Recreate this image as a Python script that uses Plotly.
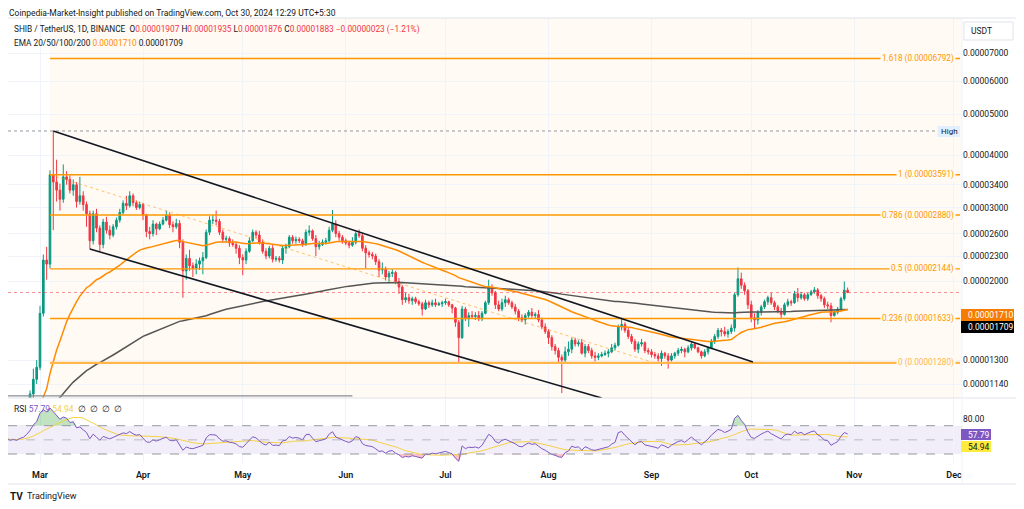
import numpy as np
import pandas as pd
import plotly.graph_objects as go

# page body has an 8px margin, so the figure is drawn 8px right/down of the window corner
OX, OY = 8, 8
W, H = 1016, 501

# ---------------- data (prices in units of 1e-5 USDT) ----------------
first_open_e5 = 1.00
close_feb = [0.99, 0.97, 0.98, 0.97, 0.99, 1.00, 1.03, 1.08, 1.17, 1.25]
high_feb = [1.01, 1.00, 0.99, 0.99, 1.00, 1.01, 1.04, 1.10, 1.24, 1.30]
low_feb = [0.97, 0.96, 0.96, 0.96, 0.96, 0.98, 0.99, 1.02, 1.05, 1.14]

close_mar = [1.68, 2.25, 2.20, 3.59, 3.45, 3.30, 3.14, 3.55, 3.50, 3.30, 3.40, 3.10, 3.20, 3.05, 2.90, 2.50,
             2.90, 2.68, 2.45, 2.77, 2.65, 2.58, 2.70, 2.80, 2.92, 3.07, 3.03, 3.20, 3.08, 3.00, 3.05]
high_mar = [1.75, 2.32, 2.42, 3.68, 4.565, 3.90, 3.42, 3.80, 3.66, 3.58, 3.50, 3.45, 3.55, 3.28, 3.10, 2.95,
            2.95, 2.98, 2.72, 2.82, 2.85, 2.72, 2.74, 2.84, 2.98, 3.12, 3.20, 3.28, 3.24, 3.12, 3.10]
low_mar = [1.23, 1.65, 2.02, 2.15, 2.65, 3.10, 2.95, 3.08, 3.40, 3.24, 3.20, 3.00, 3.05, 2.95, 2.70, 2.39,
           2.45, 2.62, 2.36, 2.40, 2.60, 2.52, 2.55, 2.66, 2.76, 2.88, 2.96, 3.00, 3.02, 2.96, 2.97]

close_apr = [2.88, 2.63, 2.60, 2.74, 2.67, 2.74, 2.80, 2.88, 2.73, 2.70, 2.75, 2.48, 2.12, 2.27, 2.18,
             2.15, 2.20, 2.24, 2.28, 2.62, 2.80, 2.80, 2.78, 2.62, 2.52, 2.53, 2.47, 2.45, 2.40, 2.28]
high_apr = [3.08, 2.90, 2.70, 2.80, 2.76, 2.78, 2.85, 2.95, 2.92, 2.78, 2.82, 2.80, 2.52, 2.32, 2.38,
            2.22, 2.26, 2.28, 2.35, 2.66, 2.86, 2.88, 2.95, 2.82, 2.66, 2.57, 2.56, 2.52, 2.48, 2.44]
low_apr = [2.80, 2.55, 2.52, 2.56, 2.58, 2.65, 2.72, 2.78, 2.68, 2.62, 2.67, 2.40, 1.83, 2.02, 2.12,
           2.05, 2.08, 2.13, 2.08, 2.26, 2.58, 2.74, 2.72, 2.58, 2.48, 2.48, 2.42, 2.42, 2.33, 2.20]

close_may = [2.25, 2.36, 2.50, 2.62, 2.58, 2.48, 2.36, 2.30, 2.40, 2.26, 2.27, 2.25, 2.40, 2.42, 2.55, 2.50,
             2.52, 2.50, 2.45, 2.62, 2.64, 2.53, 2.42, 2.45, 2.48, 2.50, 2.65, 2.74, 2.60, 2.55, 2.50]
high_may = [2.32, 2.40, 2.55, 2.66, 2.65, 2.64, 2.52, 2.40, 2.43, 2.44, 2.30, 2.30, 2.44, 2.46, 2.58, 2.58,
            2.56, 2.55, 2.53, 2.66, 2.72, 2.66, 2.58, 2.50, 2.52, 2.54, 2.70, 2.96, 2.80, 2.64, 2.58]
low_may = [2.07, 2.20, 2.34, 2.48, 2.53, 2.45, 2.33, 2.26, 2.27, 2.22, 2.23, 2.22, 2.20, 2.33, 2.40, 2.46,
           2.46, 2.47, 2.42, 2.43, 2.57, 2.50, 2.30, 2.38, 2.43, 2.45, 2.48, 2.62, 2.55, 2.50, 2.46]

close_jun = [2.47, 2.44, 2.48, 2.60, 2.57, 2.40, 2.34, 2.32, 2.30, 2.23, 2.13, 2.14, 2.05, 2.09, 2.10,
             2.00, 1.94, 1.81, 1.83, 1.80, 1.82, 1.79, 1.77, 1.72, 1.78, 1.76, 1.78, 1.76, 1.77, 1.78]
high_jun = [2.53, 2.50, 2.55, 2.63, 2.66, 2.60, 2.44, 2.37, 2.35, 2.33, 2.26, 2.22, 2.17, 2.12, 2.14,
            2.12, 2.04, 1.96, 1.88, 1.87, 1.84, 1.84, 1.81, 1.79, 1.81, 1.80, 1.81, 1.82, 1.79, 1.80]
low_jun = [2.44, 2.40, 2.42, 2.45, 2.54, 2.36, 2.15, 2.28, 2.26, 2.19, 2.05, 2.08, 2.01, 1.98, 2.05,
           1.97, 1.87, 1.76, 1.78, 1.77, 1.76, 1.77, 1.75, 1.66, 1.71, 1.73, 1.74, 1.74, 1.75, 1.74]

close_jul = [1.79, 1.76, 1.73, 1.60, 1.47, 1.72, 1.63, 1.66, 1.65, 1.66, 1.63, 1.68, 1.78, 1.93, 1.88, 1.76,
             1.72, 1.78, 1.81, 1.78, 1.74, 1.70, 1.64, 1.62, 1.66, 1.69, 1.66, 1.67, 1.62, 1.56, 1.52]
high_jul = [1.82, 1.80, 1.77, 1.74, 1.62, 1.75, 1.74, 1.69, 1.70, 1.69, 1.70, 1.70, 1.80, 2.02, 1.97, 1.90,
            1.80, 1.82, 1.85, 1.83, 1.80, 1.77, 1.72, 1.67, 1.68, 1.71, 1.73, 1.69, 1.71, 1.64, 1.59]
low_jul = [1.76, 1.74, 1.68, 1.56, 1.28, 1.46, 1.61, 1.56, 1.63, 1.62, 1.61, 1.61, 1.67, 1.76, 1.85, 1.72,
           1.70, 1.70, 1.74, 1.76, 1.72, 1.67, 1.61, 1.60, 1.58, 1.64, 1.64, 1.63, 1.60, 1.54, 1.50]

close_aug = [1.47, 1.40, 1.37, 1.32, 1.30, 1.36, 1.38, 1.45, 1.42, 1.43, 1.35, 1.40, 1.37, 1.33, 1.32, 1.33,
             1.34, 1.35, 1.36, 1.39, 1.41, 1.56, 1.58, 1.53, 1.48, 1.44, 1.38, 1.42, 1.43, 1.37, 1.36]
high_aug = [1.54, 1.49, 1.42, 1.39, 1.34, 1.40, 1.44, 1.47, 1.47, 1.45, 1.46, 1.42, 1.42, 1.39, 1.36, 1.35,
            1.36, 1.37, 1.38, 1.42, 1.43, 1.58, 1.64, 1.60, 1.55, 1.50, 1.46, 1.44, 1.46, 1.44, 1.39]
low_aug = [1.42, 1.37, 1.34, 1.28, 1.085, 1.28, 1.33, 1.35, 1.40, 1.40, 1.34, 1.32, 1.35, 1.31, 1.29, 1.30,
           1.32, 1.33, 1.32, 1.35, 1.37, 1.40, 1.53, 1.51, 1.46, 1.42, 1.36, 1.35, 1.40, 1.35, 1.34]

close_sep = [1.34, 1.33, 1.31, 1.35, 1.33, 1.30, 1.33, 1.35, 1.37, 1.38, 1.36, 1.39, 1.42, 1.39, 1.36,
             1.33, 1.36, 1.39, 1.44, 1.48, 1.53, 1.52, 1.50, 1.52, 1.55, 1.86, 2.03, 1.96, 1.90, 1.76]
high_sep = [1.38, 1.36, 1.35, 1.37, 1.36, 1.35, 1.35, 1.36, 1.39, 1.40, 1.39, 1.41, 1.44, 1.43, 1.40,
            1.37, 1.38, 1.40, 1.46, 1.50, 1.55, 1.55, 1.56, 1.54, 1.58, 1.88, 2.16, 2.10, 1.99, 1.92]
low_sep = [1.32, 1.31, 1.29, 1.26, 1.31, 1.24, 1.29, 1.31, 1.33, 1.35, 1.32, 1.35, 1.37, 1.38, 1.35,
           1.31, 1.32, 1.34, 1.38, 1.42, 1.46, 1.48, 1.48, 1.47, 1.50, 1.52, 1.84, 1.92, 1.86, 1.72]

close_oct = [1.64, 1.62, 1.69, 1.74, 1.79, 1.83, 1.78, 1.74, 1.70, 1.67, 1.76, 1.79, 1.78, 1.87, 1.83,
             1.86, 1.82, 1.86, 1.89, 1.91, 1.85, 1.82, 1.76, 1.75, 1.66, 1.69, 1.72, 1.82, 1.907, 1.883]
high_oct = [1.80, 1.68, 1.71, 1.76, 1.81, 1.85, 1.88, 1.80, 1.76, 1.73, 1.78, 1.82, 1.81, 1.90, 1.93,
            1.89, 1.88, 1.88, 1.91, 1.94, 1.93, 1.87, 1.84, 1.79, 1.78, 1.71, 1.74, 1.84, 2.00, 1.935]
low_oct = [1.60, 1.55, 1.58, 1.66, 1.72, 1.76, 1.76, 1.71, 1.68, 1.63, 1.66, 1.74, 1.75, 1.77, 1.79,
           1.81, 1.80, 1.80, 1.85, 1.87, 1.82, 1.79, 1.73, 1.72, 1.60, 1.65, 1.67, 1.70, 1.80, 1.876]

# EMA seeds (value of each EMA just before the first visible day, 1e-5 units)
ema50_seed_e5 = 0.96
ema200_seed_e5 = 0.92
# RSI(14) Wilder seed averages (1e-5 units)
rsi_seed_gain_e5 = 0.016
rsi_seed_loss_e5 = 0.014

# Fibonacci retracement
fib_ratios = ["1.618", "1", "0.786", "0.5", "0.236", "0"]
fib_prices = [0.00006792, 0.00003591, 0.00002880, 0.00002144, 0.00001633, 0.00001280]
fib_anchor_start = ("2024-03-04", 0.00003591)
fib_anchor_end = ("2024-09-02", 0.00001280)

# Drawn channel lines
upper_line = [("2024-03-05", 0.00004565), ("2024-10-01 12:00", 0.00001286)]
lower_line = [("2024-03-16", 0.00002390), ("2024-08-17", 0.00001056)]
bottom_hline = [("2024-02-20", 0.00001068), ("2024-06-03", 0.00001068)]

high_price = 0.00004565
last_price = 0.00001883

price_ticks = [0.00007, 0.00006, 0.00005, 0.00004, 0.000034, 0.00003, 0.000026, 0.000023,
               0.00002, 0.000013, 0.0000114]
month_ticks = ["2024-03-01", "2024-04-01", "2024-05-01", "2024-06-01", "2024-07-01",
               "2024-08-01", "2024-09-01", "2024-10-01", "2024-11-01", "2024-12-01"]
month_labels = ["Mar", "Apr", "May", "Jun", "Jul", "Aug", "Sep", "Oct", "Nov", "Dec"]

# ---------------- assemble ----------------
S = 1e-5
dates = pd.date_range("2024-02-20", "2024-10-30", freq="D")
close = np.array(close_feb + close_mar + close_apr + close_may + close_jun + close_jul + close_aug + close_sep + close_oct) * S
high = np.array(high_feb + high_mar + high_apr + high_may + high_jun + high_jul + high_aug + high_sep + high_oct) * S
low = np.array(low_feb + low_mar + low_apr + low_may + low_jun + low_jul + low_aug + low_sep + low_oct) * S
opn = np.concatenate([[first_open_e5 * S], close[:-1]])
high = np.maximum(high, np.maximum(opn, close))
low = np.minimum(low, np.minimum(opn, close))


def ema(vals, period, seed):
    a = 2.0 / (period + 1)
    e = seed
    out = []
    for v in vals:
        e = e + a * (v - e)
        out.append(e)
    return np.array(out)


ema50 = ema(close, 50, ema50_seed_e5 * S)
ema200 = ema(close, 200, ema200_seed_e5 * S)

ag, al = rsi_seed_gain_e5 * S, rsi_seed_loss_e5 * S
prev = first_open_e5 * S
rsi = []
for c in close:
    ch = c - prev
    ag = (ag * 13 + max(ch, 0)) / 14
    al = (al * 13 + max(-ch, 0)) / 14
    rsi.append(100 - 100 / (1 + ag / al))
    prev = c
rsi = np.array(rsi)
rsi_ma = pd.Series(rsi).rolling(14, min_periods=1).mean().values

# ---------------- geometry helpers (window pixels) ----------------
mar1 = pd.Timestamp("2024-03-01")
PXD = 3.3236
X0 = 40.0


def d_at(px):
    return mar1 + pd.Timedelta(days=(px - X0) / PXD)


def fx(px):
    return (px - OX) / W


def fy(py):
    return 1 - (py - OY) / H


PL, PR = 8, 962
MT, MB = 18, 398
RT, RB = 398, 463
x_left, x_right = d_at(PL), d_at(PR)
ylog_top = np.log10(7e-5) + (53 - MT) / 420.0
ylog_bot = np.log10(7e-5) - (MB - 53) / 420.0
RSI_PER = 0.7075
rsi_top = 50 + (439.85 - RT) / RSI_PER
rsi_bot = 50 - (RB - 439.85) / RSI_PER

FONT = "Roboto"
DARK = "#131722"
ORANGE = "#ff9800"
CREAM = "#fffaf3"

fig = go.Figure()

# EMA lines
fig.add_trace(go.Scatter(x=dates, y=ema200, mode="lines", line=dict(color="#555555", width=1.5),
                         xaxis="x", yaxis="y", hoverinfo="skip"))
fig.add_trace(go.Scatter(x=dates, y=ema50, mode="lines", line=dict(color="#ff8c00", width=1.5),
                         xaxis="x", yaxis="y", hoverinfo="skip"))

# fib trend (dotted)
fig.add_trace(go.Scatter(x=[fib_anchor_start[0], fib_anchor_end[0]], y=[fib_anchor_start[1], fib_anchor_end[1]],
                         mode="lines", line=dict(color="rgba(255,152,0,0.55)", width=1, dash="dot"),
                         xaxis="x", yaxis="y", hoverinfo="skip"))

# fib level lines
for r, p in zip(fib_ratios, fib_prices):
    col = "#ffb74d" if r == "0" else ORANGE
    wd = 2.2 if r == "0" else 1.3
    fig.add_trace(go.Scatter(x=[fib_anchor_start[0], d_at(960)], y=[p, p], mode="lines",
                             line=dict(color=col, width=wd), xaxis="x", yaxis="y", hoverinfo="skip"))

# high dotted line
fig.add_trace(go.Scatter(x=[x_left, d_at(937)], y=[high_price, high_price], mode="lines",
                         line=dict(color="#9598a1", width=1, dash="dot"), xaxis="x", yaxis="y", hoverinfo="skip"))
# last price dotted line
fig.add_trace(go.Scatter(x=[x_left, x_right], y=[last_price, last_price], mode="lines",
                         line=dict(color="rgba(242,54,69,0.55)", width=1, dash="dot"), xaxis="x", yaxis="y",
                         hoverinfo="skip"))

# channel lines
for seg, col, wd in [(upper_line, "#131722", 1.6), (lower_line, "#131722", 1.6), (bottom_hline, "#8a8d96", 1.2)]:
    fig.add_trace(go.Scatter(x=[seg[0][0], seg[1][0]], y=[seg[0][1], seg[1][1]], mode="lines",
                             line=dict(color=col, width=wd), xaxis="x", yaxis="y", hoverinfo="skip"))

# candles
fig.add_trace(go.Candlestick(x=dates, open=opn, high=high, low=low, close=close,
                             increasing=dict(line=dict(color="#089981", width=1), fillcolor="#089981"),
                             decreasing=dict(line=dict(color="#f23645", width=1), fillcolor="#f23645"),
                             whiskerwidth=0, xaxis="x", yaxis="y", hoverinfo="skip"))

# RSI pane
r_over = np.maximum(rsi, 70)
fig.add_trace(go.Scatter(x=dates, y=np.full(len(dates), 70.0), mode="lines", line=dict(width=0),
                         xaxis="x2", yaxis="y2", hoverinfo="skip"))
fig.add_trace(go.Scatter(x=dates, y=r_over, mode="lines", line=dict(width=0), fill="tonexty",
                         fillcolor="rgba(76,175,80,0.35)", xaxis="x2", yaxis="y2", hoverinfo="skip"))
r_under = np.minimum(rsi, 30)
fig.add_trace(go.Scatter(x=dates, y=np.full(len(dates), 30.0), mode="lines", line=dict(width=0),
                         xaxis="x2", yaxis="y2", hoverinfo="skip"))
fig.add_trace(go.Scatter(x=dates, y=r_under, mode="lines", line=dict(width=0), fill="tonexty",
                         fillcolor="rgba(242,54,69,0.3)", xaxis="x2", yaxis="y2", hoverinfo="skip"))
fig.add_trace(go.Scatter(x=dates, y=rsi_ma, mode="lines", line=dict(color="#f5d142", width=1),
                         xaxis="x2", yaxis="y2", hoverinfo="skip"))
fig.add_trace(go.Scatter(x=dates, y=rsi, mode="lines", line=dict(color="#7e57c2", width=1),
                         xaxis="x2", yaxis="y2", hoverinfo="skip"))

shapes = []
# fib background
shapes.append(dict(type="rect", xref="x", yref="y domain", x0=fib_anchor_start[0], x1=x_right, y0=0, y1=1,
                   fillcolor=CREAM, line=dict(width=0), layer="below"))
# RSI band
shapes.append(dict(type="rect", xref="paper", yref="y2", x0=fx(PL), x1=fx(PR), y0=30, y1=70,
                   fillcolor="rgba(126,87,194,0.1)", line=dict(width=0), layer="below"))
for lv, colr in [(70, "#9598a1"), (50, "rgba(149,152,161,0.6)"), (30, "#9598a1")]:
    shapes.append(dict(type="line", xref="paper", yref="y2", x0=fx(PL), x1=fx(PR), y0=lv, y1=lv,
                       line=dict(color=colr, width=1, dash="dash"), layer="above"))
# frames / separators
BORDER = "#e0e3eb"
shapes.append(dict(type="rect", xref="paper", yref="paper", x0=fx(7.5), x1=fx(1017.5), y0=fy(484), y1=fy(18),
                   line=dict(color=BORDER, width=1), fillcolor="rgba(0,0,0,0)", layer="above"))
shapes.append(dict(type="line", xref="paper", yref="paper", x0=fx(7.5), x1=fx(1017.5), y0=fy(398), y1=fy(398),
                   line=dict(color=BORDER, width=1), layer="above"))
shapes.append(dict(type="line", xref="paper", yref="paper", x0=fx(962), x1=fx(962), y0=fy(484), y1=fy(18),
                   line=dict(color="#f0f3fa", width=1), layer="above"))
# USDT box
shapes.append(dict(type="rect", xref="paper", yref="paper", x0=fx(964), x1=fx(1013), y0=fy(40), y1=fy(22),
                   line=dict(color=BORDER, width=1), fillcolor="white", layer="above"))
# price-axis tags
shapes.append(dict(type="rect", xref="paper", yref="paper", x0=fx(961), x1=fx(1014), y0=fy(321), y1=fy(309),
                   line=dict(width=0), fillcolor="#f57c00", layer="above"))
shapes.append(dict(type="rect", xref="paper", yref="paper", x0=fx(961), x1=fx(1014), y0=fy(333), y1=fy(321),
                   line=dict(width=0), fillcolor="#000000", layer="above"))
shapes.append(dict(type="rect", xref="paper", yref="paper", x0=fx(961), x1=fx(991), y0=fy(440), y1=fy(429),
                   line=dict(width=0), fillcolor="#7e57c2", layer="above"))
shapes.append(dict(type="rect", xref="paper", yref="paper", x0=fx(961), x1=fx(991), y0=fy(452), y1=fy(441),
                   line=dict(width=0), fillcolor="#ffeb3b", layer="above"))
# High tag
shapes.append(dict(type="rect", xref="paper", yref="paper", x0=fx(937.5), x1=fx(960), y0=fy(137), y1=fy(126),
                   line=dict(width=0), fillcolor="#e3effd", layer="above"))

ann = []
RED = "#f23645"
ann.append(dict(x=fx(8), y=fy(13), xref="paper", yref="paper", xanchor="left", yanchor="middle", showarrow=False,
                text="Coinpedia-Market-Insight published on TradingView.com, Oct 30, 2024 12:29 UTC+5:30",
                font=dict(family=FONT, size=8.5, color=DARK), borderpad=0))
ann.append(dict(x=fx(12), y=fy(29), xref="paper", yref="paper", xanchor="left", yanchor="middle", showarrow=False,
                text=("SHIB / TetherUS, 1D, BINANCE  O<span style='color:%s'>0.00001907</span> "
                      "H<span style='color:%s'>0.00001935</span> L<span style='color:%s'>0.00001876</span> "
                      "C<span style='color:%s'>0.00001883</span> <span style='color:%s'>−0.00000023 (−1.21%%)</span>")
                % (RED, RED, RED, RED, RED),
                font=dict(family=FONT, size=8.3, color=DARK)))
ann.append(dict(x=fx(12), y=fy(43), xref="paper", yref="paper", xanchor="left", yanchor="middle", showarrow=False,
                text="EMA 20/50/100/200 <span style='color:#ff8c00'>0.00001710</span> 0.00001709",
                font=dict(family=FONT, size=8.3, color=DARK)))
ann.append(dict(x=fx(12), y=fy(409), xref="paper", yref="paper", xanchor="left", yanchor="middle", showarrow=False,
                text="RSI <span style='color:#7e57c2'>57.79</span> <span style='color:#f5d142'>54.94</span>  ∅  ∅  ∅  ∅",
                font=dict(family=FONT, size=8.5, color=DARK)))
# fib labels
for r, p in zip(fib_ratios, fib_prices):
    col = "#ffb74d" if r == "0" else ORANGE
    ann.append(dict(x=fx(955.5), y=np.log10(p), xref="paper", yref="y", xanchor="right", yanchor="middle",
                    showarrow=False, text="%s (%.8f)" % (r, p), bgcolor=CREAM, borderpad=1,
                    font=dict(family=FONT, size=8.2, color=col)))
ann.append(dict(x=fx(949), y=fy(131.5), xref="paper", yref="paper", xanchor="center", yanchor="middle",
                showarrow=False, text="High", font=dict(family=FONT, size=8, color=DARK)))
ann.append(dict(x=fx(969), y=fy(31), xref="paper", yref="paper", xanchor="left", yanchor="middle",
                showarrow=False, text="USDT", font=dict(family=FONT, size=8.5, color=DARK)))
for ytag, txt in [(315, "0.00001710"), (327, "0.00001709")]:
    ann.append(dict(x=fx(966), y=fy(ytag), xref="paper", yref="paper", xanchor="left", yanchor="middle",
                    showarrow=False, text=txt, font=dict(family=FONT, size=8.5, color="white")))
ann.append(dict(x=fx(966), y=fy(434.5), xref="paper", yref="paper", xanchor="left", yanchor="middle",
                showarrow=False, text="57.79", font=dict(family=FONT, size=8.5, color="white")))
ann.append(dict(x=fx(966), y=fy(446.5), xref="paper", yref="paper", xanchor="left", yanchor="middle",
                showarrow=False, text="54.94", font=dict(family=FONT, size=8.5, color=DARK)))
# footer logo
ann.append(dict(x=fx(8), y=fy(496), xref="paper", yref="paper", xanchor="left", yanchor="middle",
                showarrow=False, text="<b>TV</b>", font=dict(family=FONT, size=10, color=DARK)))
ann.append(dict(x=fx(25), y=fy(496), xref="paper", yref="paper", xanchor="left", yanchor="middle",
                showarrow=False, text="TradingView", font=dict(family=FONT, size=9, color=DARK)))

tick_text = ["%.8f" % v for v in price_ticks]

fig.update_layout(
    width=W, height=H, autosize=False,
    margin=dict(l=0, r=0, t=0, b=0),
    paper_bgcolor="white", plot_bgcolor="white",
    showlegend=False,
    shapes=shapes, annotations=ann,
    xaxis=dict(domain=[fx(PL), fx(PR)], type="date", range=[x_left, x_right], anchor="y",
               tickvals=month_ticks, showticklabels=False, showgrid=True, gridcolor="#f0f3fa",
               zeroline=False, showline=False, rangeslider=dict(visible=False), ticks=""),
    xaxis2=dict(domain=[fx(PL), fx(PR)], type="date", matches="x", anchor="y2",
                tickvals=month_ticks, ticktext=month_labels, showgrid=True, gridcolor="#f0f3fa",
                zeroline=False, showline=False, ticks="", ticklabelstandoff=5,
                tickfont=dict(family=FONT, size=9, color=DARK, weight=600)),
    yaxis=dict(domain=[fy(MB), fy(MT)], type="log", range=[ylog_bot, ylog_top], side="right", anchor="x",
               tickvals=price_ticks, ticktext=tick_text, showgrid=True, gridcolor="#f0f3fa",
               zeroline=False, showline=False, ticks="",
               tickfont=dict(family=FONT, size=8.5, color=DARK)),
    yaxis2=dict(domain=[fy(RB), fy(RT)], range=[rsi_bot, rsi_top], side="right", anchor="x2",
                tickvals=[80], ticktext=["80.00"], showgrid=False, zeroline=False, showline=False, ticks="",
                tickfont=dict(family=FONT, size=8.5, color=DARK)),
)

fig.write_html("out.html")
